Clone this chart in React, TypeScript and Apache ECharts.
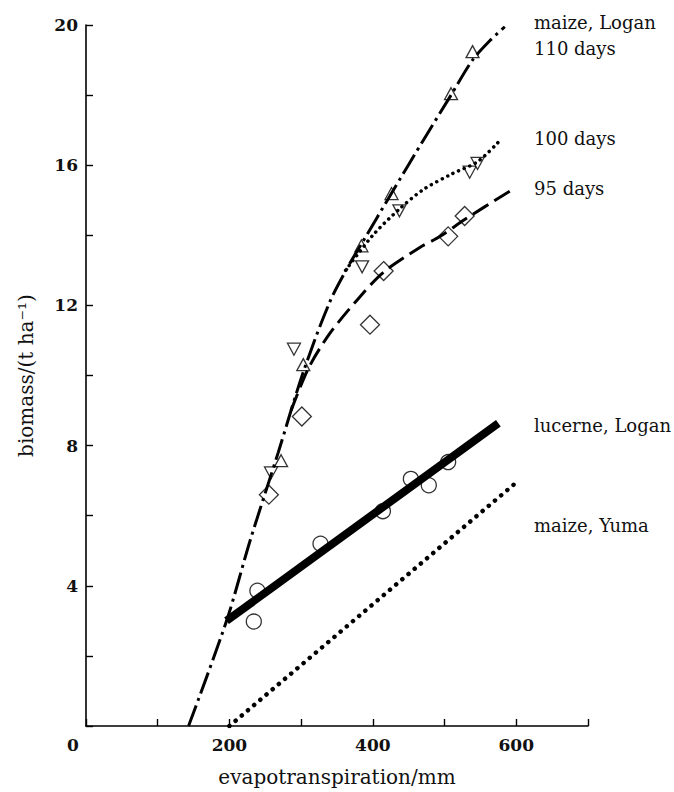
import React, { useEffect, useRef } from "react";
import * as echarts from "echarts";

// Observed data points (evapotranspiration mm, biomass t/ha)
const lucerneX = [234, 239, 327, 414, 453, 478, 505];
const lucerneY = [2.98, 3.86, 5.2, 6.13, 7.05, 6.87, 7.53];
const maize110X = [272, 303, 384, 426, 509, 539];
const maize110Y = [7.57, 10.31, 13.7, 15.19, 18.04, 19.24];
const maize100X = [258, 290, 385, 437, 535, 546];
const maize100Y = [7.22, 10.75, 13.1, 14.7, 15.8, 16.05];
const maize95X = [255, 301, 396, 415, 505, 528];
const maize95Y = [6.6, 8.83, 11.45, 12.98, 13.97, 14.55];

// Fitted curves
const curve110X = [143, 196, 229, 268, 303, 340, 368, 384, 426, 470, 509, 539, 563, 584];
const curve110Y = [0, 3.0, 5.3, 7.8, 10.1, 12.1, 13.2, 13.75, 15.2, 16.7, 18.0, 19.0, 19.55, 19.95];
const curve100X = [362, 400, 437, 470, 510, 546, 577];
const curve100Y = [13.0, 14.0, 14.75, 15.3, 15.75, 16.1, 16.7];
const curve95X = [286, 310, 340, 380, 415, 466, 494, 528, 591];
const curve95Y = [9.0, 10.2, 11.2, 12.2, 12.95, 13.66, 13.97, 14.45, 15.26];
const lucerneFitX = [196, 575];
const lucerneFitY = [3.0, 8.64];
const yumaFitX = [200, 603];
const yumaFitY = [0, 7.0];

const curveLabels = ["maize, Logan", "110 days", "100 days", "95 days", "lucerne, Logan", "maize, Yuma"];
const xLabelValues = [0, 200, 400, 600];
const yLabelValues = [4, 8, 12, 16, 20];

const FONT = "DejaVu Serif";

const zip = (xs: number[], ys: number[]) => xs.map((x, i) => [x, ys[i]]);

export default function App() {
  const ref = useRef<HTMLDivElement>(null);
  useEffect(() => {
    document.body.style.margin = "0";
    const chart = echarts.init(ref.current!, null, { renderer: "svg" });
    const markerStyle = { color: "#fff", borderColor: "#000", borderWidth: 1.3 };
    const labelPos = [22, 48, 138, 188, 425, 525];
    chart.setOption({
      animation: false,
      backgroundColor: "#fff",
      grid: { left: 86, right: 86, top: 25, bottom: 63 },
      xAxis: {
        type: "value",
        min: 0,
        max: 700,
        interval: 100,
        name: "evapotranspiration/mm",
        nameLocation: "middle",
        nameGap: 41,
        nameTextStyle: { fontFamily: FONT, fontSize: 20, color: "#111" },
        axisLine: { lineStyle: { color: "#000", width: 1.6 } },
        axisTick: { inside: true, length: 7, lineStyle: { color: "#000", width: 1.4 } },
        splitLine: { show: false },
        axisLabel: {
          margin: 10,
          fontFamily: FONT,
          fontWeight: "bold",
          fontSize: 17,
          color: "#111",
          formatter: (v: number) =>
            v === 0 ? "{z|0}" : xLabelValues.includes(v) ? String(v) : "",
          rich: {
            z: { padding: [0, 26, 0, 0], fontFamily: FONT, fontWeight: "bold", fontSize: 17, color: "#111" },
          },
        },
      },
      yAxis: {
        type: "value",
        min: 0,
        max: 20,
        interval: 2,
        name: "biomass/(t ha\u207B\u00B9)",
        nameLocation: "middle",
        nameGap: 50,
        nameTextStyle: { fontFamily: FONT, fontSize: 20, color: "#111" },
        axisLine: { show: true, lineStyle: { color: "#000", width: 1.6 } },
        axisTick: { show: true, inside: true, length: 7, lineStyle: { color: "#000", width: 1.4 } },
        splitLine: { show: false },
        axisLabel: {
          margin: 8,
          fontFamily: FONT,
          fontWeight: "bold",
          fontSize: 17,
          color: "#111",
          formatter: (v: number) => (yLabelValues.includes(v) ? String(v) : ""),
        },
      },
      graphic: curveLabels.map((t, i) => ({
        type: "text",
        x: 534,
        y: labelPos[i],
        style: { text: t, fontFamily: FONT, fontSize: 18, fill: "#111", verticalAlign: "middle" },
      })),
      series: [
        {
          type: "line",
          data: zip(yumaFitX, yumaFitY),
          showSymbol: false,
          lineStyle: { color: "#000", width: 4.5, type: [0.1, 8], cap: "round" },
        },
        {
          type: "line",
          data: zip(lucerneFitX, lucerneFitY),
          showSymbol: false,
          lineStyle: { color: "#000", width: 8, type: "solid", cap: "butt" },
        },
        {
          type: "line",
          data: zip(curve110X, curve110Y),
          showSymbol: false,
          smooth: 0.3,
          lineStyle: { color: "#000", width: 3, type: [22, 5, 3, 5] },
        },
        {
          type: "line",
          data: zip(curve100X, curve100Y),
          showSymbol: false,
          smooth: 0.3,
          lineStyle: { color: "#000", width: 3.5, type: [0.1, 6], cap: "round" },
        },
        {
          type: "line",
          data: zip(curve95X, curve95Y),
          showSymbol: false,
          smooth: 0.3,
          lineStyle: { color: "#000", width: 3, type: [18, 7] },
        },
        {
          type: "scatter",
          data: zip(lucerneX, lucerneY),
          symbol: "circle",
          symbolSize: 22,
          itemStyle: { color: "#fff", borderWidth: 0 },
        },
        {
          type: "scatter",
          data: zip(lucerneX, lucerneY),
          symbol: "circle",
          symbolSize: 15,
          itemStyle: markerStyle,
        },
        {
          type: "scatter",
          data: zip(maize110X, maize110Y),
          symbol: "triangle",
          symbolSize: [13, 12],
          itemStyle: markerStyle,
        },
        {
          type: "scatter",
          data: zip(maize100X, maize100Y),
          symbol: "triangle",
          symbolRotate: 180,
          symbolSize: [13, 12],
          itemStyle: markerStyle,
        },
        {
          type: "scatter",
          data: zip(maize95X, maize95Y),
          symbol: "diamond",
          symbolSize: [19, 19],
          itemStyle: markerStyle,
        },
      ],
    });
    return () => chart.dispose();
  }, []);
  return <div ref={ref} style={{ width: 674, height: 792 }} />;
}
